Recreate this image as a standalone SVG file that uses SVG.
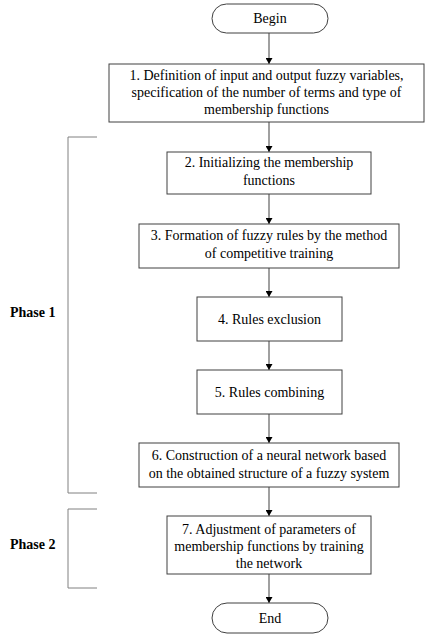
<svg xmlns="http://www.w3.org/2000/svg" width="425" height="637" viewBox="0 0 425 637">
  <style>
    .box { fill: #ffffff; stroke: #404040; stroke-width: 1; }
    .txt { font-family: "Liberation Serif", "Times New Roman", serif; font-size: 14px; fill: #000000; text-anchor: middle; }
    .phase { font-family: "Liberation Serif", "Times New Roman", serif; font-size: 14px; font-weight: bold; fill: #000000; }
    .link { stroke: #808080; stroke-width: 1.5; fill: none; marker-end: url(#arrow); }
    .bracket { stroke: #808080; stroke-width: 1; fill: none; }
  </style>
  <defs>
    <marker id="arrow" markerWidth="7" markerHeight="7" refX="6" refY="3.5" orient="auto" markerUnits="userSpaceOnUse">
      <path d="M0,0 L6,3.5 L0,7 Z" fill="#000000"/>
    </marker>
  </defs>
  <rect width="425" height="637" fill="#ffffff"/>

  <g id="connectors">
    <line class="link" x1="269" y1="33" x2="269" y2="64"/>
    <line class="link" x1="269" y1="122" x2="269" y2="152"/>
    <line class="link" x1="269" y1="194" x2="269" y2="224"/>
    <line class="link" x1="269" y1="268" x2="269" y2="297"/>
    <line class="link" x1="269" y1="341" x2="269" y2="370"/>
    <line class="link" x1="269" y1="414" x2="269" y2="443"/>
    <line class="link" x1="269" y1="487" x2="269" y2="516"/>
    <line class="link" x1="269" y1="574" x2="269" y2="603"/>
  </g>

  <g id="begin">
    <rect class="box" x="212" y="4" width="116" height="29" rx="14.5" ry="14.5"/>
    <text class="txt" x="270" y="23">Begin</text>
  </g>

  <g id="step1">
    <rect class="box" x="109" y="64" width="315" height="58"/>
    <text class="txt" x="266.5" y="80">1. Definition of input and output fuzzy variables,</text>
    <text class="txt" x="266.5" y="97">specification of the number of terms and type of</text>
    <text class="txt" x="266.5" y="114">membership functions</text>
  </g>

  <g id="step2">
    <rect class="box" x="167" y="152" width="204" height="42"/>
    <text class="txt" x="269" y="167">2. Initializing the membership</text>
    <text class="txt" x="269" y="185">functions</text>
  </g>

  <g id="step3">
    <rect class="box" x="139" y="224" width="260" height="44"/>
    <text class="txt" x="269" y="240">3. Formation of fuzzy rules by the method</text>
    <text class="txt" x="269" y="258">of competitive training</text>
  </g>

  <g id="step4">
    <rect class="box" x="197" y="297" width="145" height="44"/>
    <text class="txt" x="269.5" y="324">4. Rules exclusion</text>
  </g>

  <g id="step5">
    <rect class="box" x="197" y="370" width="145" height="44"/>
    <text class="txt" x="269.5" y="397">5. Rules combining</text>
  </g>

  <g id="step6">
    <rect class="box" x="139" y="443" width="260" height="44"/>
    <text class="txt" x="269" y="460">6. Construction of a neural network based</text>
    <text class="txt" x="269" y="478">on the obtained structure of a fuzzy system</text>
  </g>

  <g id="step7">
    <rect class="box" x="167" y="516" width="204" height="58"/>
    <text class="txt" x="269" y="534">7. Adjustment of parameters of</text>
    <text class="txt" x="269" y="551">membership functions by training</text>
    <text class="txt" x="269" y="568">the network</text>
  </g>

  <g id="end">
    <rect class="box" x="212" y="603" width="116" height="30" rx="15" ry="15"/>
    <text class="txt" x="270" y="623">End</text>
  </g>

  <g id="phase1">
    <path class="bracket" d="M97,137 H68 V493 H97"/>
    <text class="phase" x="10" y="317">Phase 1</text>
  </g>

  <g id="phase2">
    <path class="bracket" d="M97,509 H68 V588 H97"/>
    <text class="phase" x="10" y="549">Phase 2</text>
  </g>
</svg>
